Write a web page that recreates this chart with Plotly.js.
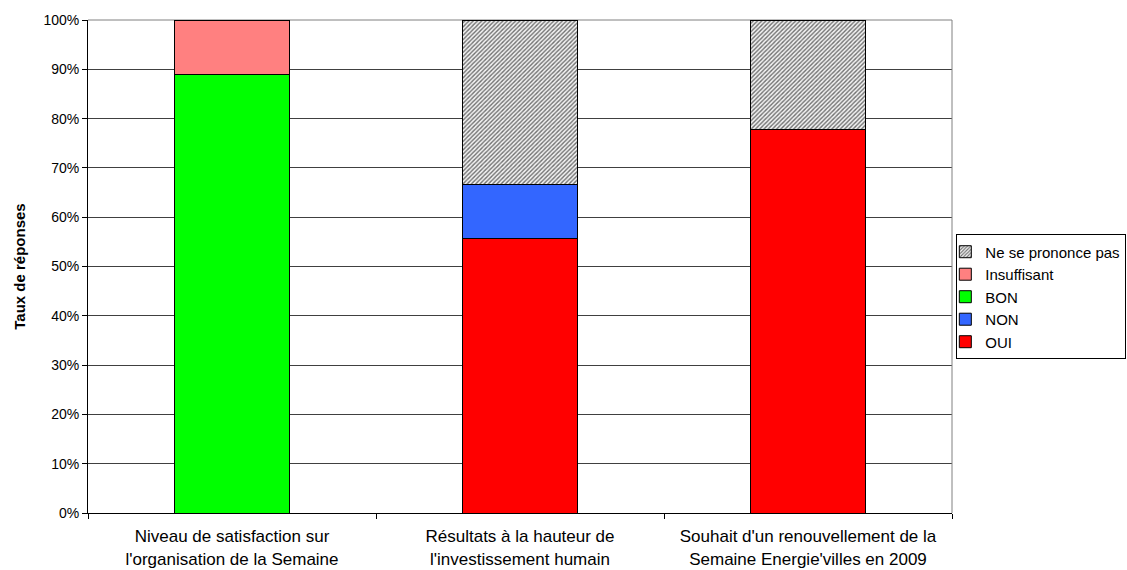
<!DOCTYPE html>
<html>
<head>
<meta charset="utf-8">
<script src="https://cdn.plot.ly/plotly-3.0.1.min.js"></script>
<style>html,body{margin:0;padding:0;background:#fff;}#chart{width:1127px;height:570px;}</style>
</head>
<body>
<div id="chart"></div>
<script>
const categories = [
  "Niveau de satisfaction sur<br>l'organisation de la Semaine",
  "Résultats à la hauteur de<br>l'investissement humain",
  "Souhait d'un renouvellement de la<br>Semaine Energie'villes en 2009"
];
const oui = [null, 0.556, 0.778];
const non = [null, 0.111, null];
const bon = [0.889, null, null];
const insuffisant = [0.111, null, null];
const nsp = [null, 0.333, 0.222];
const yTickVals = [0,0.1,0.2,0.3,0.4,0.5,0.6,0.7,0.8,0.9,1];
const yTickText = ["0%","10%","20%","30%","40%","50%","60%","70%","80%","90%","100%"];

const line = {color:'#000', width:1};
function tr(name, y, color, pattern){
  const m = {color: color, line: line};
  if (pattern) m.pattern = pattern;
  return {type:'bar', name:name, x:categories, y:y, marker:m, hoverinfo:'name+y'};
}
const data = [
  tr('OUI', oui, '#ff0000'),
  tr('NON', non, '#3366ff'),
  tr('BON', bon, '#00ff00'),
  tr('Insuffisant', insuffisant, '#ff8080'),
  tr('Ne se prononce pas', nsp, '#d0d0d0', {shape:'/', fgcolor:'#707070', bgcolor:'#f4f4f4', size:3, solidity:0.45})
];
const layout = {
  width:1127, height:570,
  margin:{l:88, r:175, t:20, b:57, autoexpand:false},
  paper_bgcolor:'#fff', plot_bgcolor:'#fff',
  barmode:'stack', bargap:0.6,
  font:{family:'Liberation Sans, Arial, sans-serif', color:'#000', size:13},
  showlegend:true,
  legend:{x:1.005, xanchor:'left', y:0.565, yanchor:'top', traceorder:'reversed',
    bordercolor:'#000', borderwidth:1, bgcolor:'#fff', indentation:-12,
    font:{size:15, family:'Liberation Sans, Arial, sans-serif'}, tracegroupgap:0, itemwidth:30},
  xaxis:{type:'category', showline:true, linecolor:'#000', linewidth:1,
    ticks:'outside', tickson:'boundaries', ticklen:5, tickcolor:'#000',
    showgrid:false, tickfont:{size:17}, ticklabelstandoff:8, fixedrange:true, automargin:false},
  yaxis:{range:[0,1], tickvals:yTickVals, ticktext:yTickText, showline:true, linecolor:'#000',
    linewidth:1, ticks:'outside', ticklen:5, tickcolor:'#000', showgrid:true, gridcolor:'#404040', gridwidth:1,
    zeroline:false, tickfont:{size:14}, automargin:false,
    title:{text:'<b>Taux de réponses</b>', font:{size:15}, standoff:14}},
  shapes:[
    {type:'line', xref:'paper', yref:'paper', x0:1, x1:1, y0:0, y1:1, line:{color:'#808080', width:1}},
    {type:'line', xref:'paper', yref:'paper', x0:0, x1:1, y0:1, y1:1, line:{color:'#808080', width:1}, layer:'below'}
  ]
};
Plotly.newPlot('chart', data, layout, {staticPlot:true});
</script>
</body>
</html>
